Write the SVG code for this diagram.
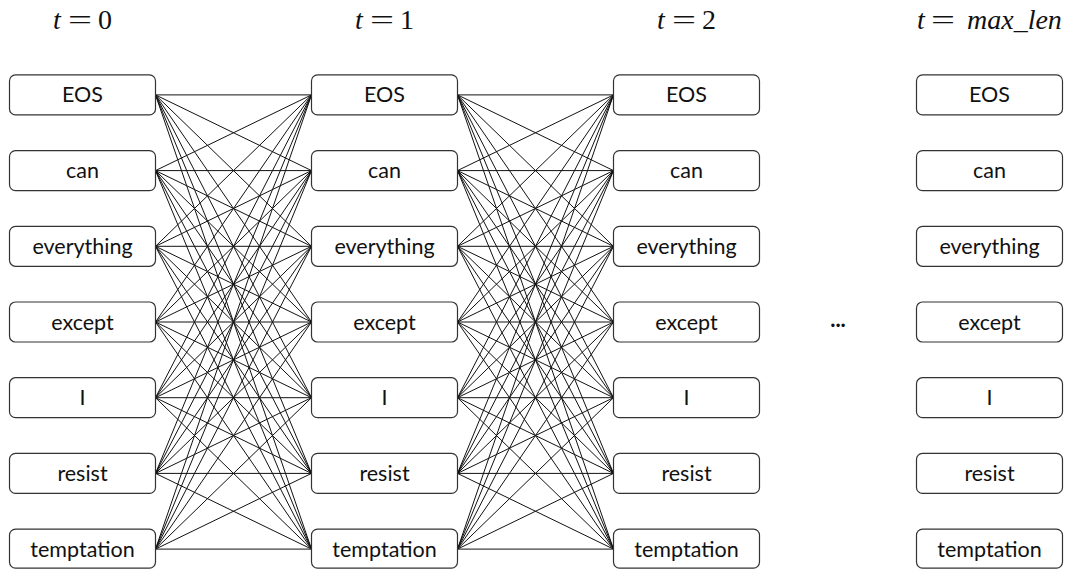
<svg xmlns="http://www.w3.org/2000/svg" width="1068" height="569" viewBox="0 0 1068 569">
<style>
.n rect{fill:#fff;stroke:#333;stroke-width:1.2}
.n text{font-family:Lato,"Open Sans",sans-serif;font-size:21.5px;fill:#111;text-anchor:middle}
.h{font-family:"Liberation Serif",serif;font-size:28px;fill:#111}
.i{font-style:italic}
.c line{stroke:#111;stroke-width:1}
</style>
<rect width="1068" height="569" fill="#fff"/>
<g id="headers">
<text class="h i" x="53" y="29">t</text><text class="h" x="68" y="29" textLength="24" lengthAdjust="spacingAndGlyphs">=</text><text class="h" x="98" y="29">0</text>
<text class="h i" x="355" y="29">t</text><text class="h" x="370" y="29" textLength="24" lengthAdjust="spacingAndGlyphs">=</text><text class="h" x="400" y="29">1</text>
<text class="h i" x="657" y="29">t</text><text class="h" x="672" y="29" textLength="24" lengthAdjust="spacingAndGlyphs">=</text><text class="h" x="702" y="29">2</text>
<text class="h i" x="917" y="29">t</text><text class="h" x="931" y="29" textLength="24" lengthAdjust="spacingAndGlyphs">=</text><text class="h i" x="967" y="29">max_len</text>
</g>
<text x="838" y="327" font-family="Lato,sans-serif" font-size="22" font-weight="bold" text-anchor="middle" fill="#111">...</text>
<g class="c" id="connectors">
<line x1="155.5" y1="94.9" x2="311.5" y2="94.9"/><line x1="155.5" y1="94.9" x2="311.5" y2="170.6"/><line x1="155.5" y1="94.9" x2="311.5" y2="246.3"/><line x1="155.5" y1="94.9" x2="311.5" y2="322"/><line x1="155.5" y1="94.9" x2="311.5" y2="397.7"/><line x1="155.5" y1="94.9" x2="311.5" y2="473.4"/><line x1="155.5" y1="94.9" x2="311.5" y2="549.1"/>
<line x1="155.5" y1="170.6" x2="311.5" y2="94.9"/><line x1="155.5" y1="170.6" x2="311.5" y2="170.6"/><line x1="155.5" y1="170.6" x2="311.5" y2="246.3"/><line x1="155.5" y1="170.6" x2="311.5" y2="322"/><line x1="155.5" y1="170.6" x2="311.5" y2="397.7"/><line x1="155.5" y1="170.6" x2="311.5" y2="473.4"/><line x1="155.5" y1="170.6" x2="311.5" y2="549.1"/>
<line x1="155.5" y1="246.3" x2="311.5" y2="94.9"/><line x1="155.5" y1="246.3" x2="311.5" y2="170.6"/><line x1="155.5" y1="246.3" x2="311.5" y2="246.3"/><line x1="155.5" y1="246.3" x2="311.5" y2="322"/><line x1="155.5" y1="246.3" x2="311.5" y2="397.7"/><line x1="155.5" y1="246.3" x2="311.5" y2="473.4"/><line x1="155.5" y1="246.3" x2="311.5" y2="549.1"/>
<line x1="155.5" y1="322" x2="311.5" y2="94.9"/><line x1="155.5" y1="322" x2="311.5" y2="170.6"/><line x1="155.5" y1="322" x2="311.5" y2="246.3"/><line x1="155.5" y1="322" x2="311.5" y2="322"/><line x1="155.5" y1="322" x2="311.5" y2="397.7"/><line x1="155.5" y1="322" x2="311.5" y2="473.4"/><line x1="155.5" y1="322" x2="311.5" y2="549.1"/>
<line x1="155.5" y1="397.7" x2="311.5" y2="94.9"/><line x1="155.5" y1="397.7" x2="311.5" y2="170.6"/><line x1="155.5" y1="397.7" x2="311.5" y2="246.3"/><line x1="155.5" y1="397.7" x2="311.5" y2="322"/><line x1="155.5" y1="397.7" x2="311.5" y2="397.7"/><line x1="155.5" y1="397.7" x2="311.5" y2="473.4"/><line x1="155.5" y1="397.7" x2="311.5" y2="549.1"/>
<line x1="155.5" y1="473.4" x2="311.5" y2="94.9"/><line x1="155.5" y1="473.4" x2="311.5" y2="170.6"/><line x1="155.5" y1="473.4" x2="311.5" y2="246.3"/><line x1="155.5" y1="473.4" x2="311.5" y2="322"/><line x1="155.5" y1="473.4" x2="311.5" y2="397.7"/><line x1="155.5" y1="473.4" x2="311.5" y2="473.4"/><line x1="155.5" y1="473.4" x2="311.5" y2="549.1"/>
<line x1="155.5" y1="549.1" x2="311.5" y2="94.9"/><line x1="155.5" y1="549.1" x2="311.5" y2="170.6"/><line x1="155.5" y1="549.1" x2="311.5" y2="246.3"/><line x1="155.5" y1="549.1" x2="311.5" y2="322"/><line x1="155.5" y1="549.1" x2="311.5" y2="397.7"/><line x1="155.5" y1="549.1" x2="311.5" y2="473.4"/><line x1="155.5" y1="549.1" x2="311.5" y2="549.1"/>
<line x1="457.5" y1="94.9" x2="613.5" y2="94.9"/><line x1="457.5" y1="94.9" x2="613.5" y2="170.6"/><line x1="457.5" y1="94.9" x2="613.5" y2="246.3"/><line x1="457.5" y1="94.9" x2="613.5" y2="322"/><line x1="457.5" y1="94.9" x2="613.5" y2="397.7"/><line x1="457.5" y1="94.9" x2="613.5" y2="473.4"/><line x1="457.5" y1="94.9" x2="613.5" y2="549.1"/>
<line x1="457.5" y1="170.6" x2="613.5" y2="94.9"/><line x1="457.5" y1="170.6" x2="613.5" y2="170.6"/><line x1="457.5" y1="170.6" x2="613.5" y2="246.3"/><line x1="457.5" y1="170.6" x2="613.5" y2="322"/><line x1="457.5" y1="170.6" x2="613.5" y2="397.7"/><line x1="457.5" y1="170.6" x2="613.5" y2="473.4"/><line x1="457.5" y1="170.6" x2="613.5" y2="549.1"/>
<line x1="457.5" y1="246.3" x2="613.5" y2="94.9"/><line x1="457.5" y1="246.3" x2="613.5" y2="170.6"/><line x1="457.5" y1="246.3" x2="613.5" y2="246.3"/><line x1="457.5" y1="246.3" x2="613.5" y2="322"/><line x1="457.5" y1="246.3" x2="613.5" y2="397.7"/><line x1="457.5" y1="246.3" x2="613.5" y2="473.4"/><line x1="457.5" y1="246.3" x2="613.5" y2="549.1"/>
<line x1="457.5" y1="322" x2="613.5" y2="94.9"/><line x1="457.5" y1="322" x2="613.5" y2="170.6"/><line x1="457.5" y1="322" x2="613.5" y2="246.3"/><line x1="457.5" y1="322" x2="613.5" y2="322"/><line x1="457.5" y1="322" x2="613.5" y2="397.7"/><line x1="457.5" y1="322" x2="613.5" y2="473.4"/><line x1="457.5" y1="322" x2="613.5" y2="549.1"/>
<line x1="457.5" y1="397.7" x2="613.5" y2="94.9"/><line x1="457.5" y1="397.7" x2="613.5" y2="170.6"/><line x1="457.5" y1="397.7" x2="613.5" y2="246.3"/><line x1="457.5" y1="397.7" x2="613.5" y2="322"/><line x1="457.5" y1="397.7" x2="613.5" y2="397.7"/><line x1="457.5" y1="397.7" x2="613.5" y2="473.4"/><line x1="457.5" y1="397.7" x2="613.5" y2="549.1"/>
<line x1="457.5" y1="473.4" x2="613.5" y2="94.9"/><line x1="457.5" y1="473.4" x2="613.5" y2="170.6"/><line x1="457.5" y1="473.4" x2="613.5" y2="246.3"/><line x1="457.5" y1="473.4" x2="613.5" y2="322"/><line x1="457.5" y1="473.4" x2="613.5" y2="397.7"/><line x1="457.5" y1="473.4" x2="613.5" y2="473.4"/><line x1="457.5" y1="473.4" x2="613.5" y2="549.1"/>
<line x1="457.5" y1="549.1" x2="613.5" y2="94.9"/><line x1="457.5" y1="549.1" x2="613.5" y2="170.6"/><line x1="457.5" y1="549.1" x2="613.5" y2="246.3"/><line x1="457.5" y1="549.1" x2="613.5" y2="322"/><line x1="457.5" y1="549.1" x2="613.5" y2="397.7"/><line x1="457.5" y1="549.1" x2="613.5" y2="473.4"/><line x1="457.5" y1="549.1" x2="613.5" y2="549.1"/>
</g>
<g class="n" id="t0-eos"><rect x="9.5" y="74.9" width="146" height="40" rx="6"/><text x="82.5" y="102.4">EOS</text></g>
<g class="n" id="t0-can"><rect x="9.5" y="150.6" width="146" height="40" rx="6"/><text x="82.5" y="178.1">can</text></g>
<g class="n" id="t0-everything"><rect x="9.5" y="226.3" width="146" height="40" rx="6"/><text x="82.5" y="253.8">everything</text></g>
<g class="n" id="t0-except"><rect x="9.5" y="302" width="146" height="40" rx="6"/><text x="82.5" y="329.5">except</text></g>
<g class="n" id="t0-i"><rect x="9.5" y="377.7" width="146" height="40" rx="6"/><text x="82.5" y="405.2">I</text></g>
<g class="n" id="t0-resist"><rect x="9.5" y="453.4" width="146" height="40" rx="6"/><text x="82.5" y="480.9">resist</text></g>
<g class="n" id="t0-temptation"><rect x="9.5" y="529.1" width="146" height="39" rx="6"/><text x="82.5" y="556.6">temptation</text></g>
<g class="n" id="t1-eos"><rect x="311.5" y="74.9" width="146" height="40" rx="6"/><text x="384.5" y="102.4">EOS</text></g>
<g class="n" id="t1-can"><rect x="311.5" y="150.6" width="146" height="40" rx="6"/><text x="384.5" y="178.1">can</text></g>
<g class="n" id="t1-everything"><rect x="311.5" y="226.3" width="146" height="40" rx="6"/><text x="384.5" y="253.8">everything</text></g>
<g class="n" id="t1-except"><rect x="311.5" y="302" width="146" height="40" rx="6"/><text x="384.5" y="329.5">except</text></g>
<g class="n" id="t1-i"><rect x="311.5" y="377.7" width="146" height="40" rx="6"/><text x="384.5" y="405.2">I</text></g>
<g class="n" id="t1-resist"><rect x="311.5" y="453.4" width="146" height="40" rx="6"/><text x="384.5" y="480.9">resist</text></g>
<g class="n" id="t1-temptation"><rect x="311.5" y="529.1" width="146" height="39" rx="6"/><text x="384.5" y="556.6">temptation</text></g>
<g class="n" id="t2-eos"><rect x="613.5" y="74.9" width="146" height="40" rx="6"/><text x="686.5" y="102.4">EOS</text></g>
<g class="n" id="t2-can"><rect x="613.5" y="150.6" width="146" height="40" rx="6"/><text x="686.5" y="178.1">can</text></g>
<g class="n" id="t2-everything"><rect x="613.5" y="226.3" width="146" height="40" rx="6"/><text x="686.5" y="253.8">everything</text></g>
<g class="n" id="t2-except"><rect x="613.5" y="302" width="146" height="40" rx="6"/><text x="686.5" y="329.5">except</text></g>
<g class="n" id="t2-i"><rect x="613.5" y="377.7" width="146" height="40" rx="6"/><text x="686.5" y="405.2">I</text></g>
<g class="n" id="t2-resist"><rect x="613.5" y="453.4" width="146" height="40" rx="6"/><text x="686.5" y="480.9">resist</text></g>
<g class="n" id="t2-temptation"><rect x="613.5" y="529.1" width="146" height="39" rx="6"/><text x="686.5" y="556.6">temptation</text></g>
<g class="n" id="tm-eos"><rect x="916.5" y="74.9" width="146" height="40" rx="6"/><text x="989.5" y="102.4">EOS</text></g>
<g class="n" id="tm-can"><rect x="916.5" y="150.6" width="146" height="40" rx="6"/><text x="989.5" y="178.1">can</text></g>
<g class="n" id="tm-everything"><rect x="916.5" y="226.3" width="146" height="40" rx="6"/><text x="989.5" y="253.8">everything</text></g>
<g class="n" id="tm-except"><rect x="916.5" y="302" width="146" height="40" rx="6"/><text x="989.5" y="329.5">except</text></g>
<g class="n" id="tm-i"><rect x="916.5" y="377.7" width="146" height="40" rx="6"/><text x="989.5" y="405.2">I</text></g>
<g class="n" id="tm-resist"><rect x="916.5" y="453.4" width="146" height="40" rx="6"/><text x="989.5" y="480.9">resist</text></g>
<g class="n" id="tm-temptation"><rect x="916.5" y="529.1" width="146" height="39" rx="6"/><text x="989.5" y="556.6">temptation</text></g>
</svg>
